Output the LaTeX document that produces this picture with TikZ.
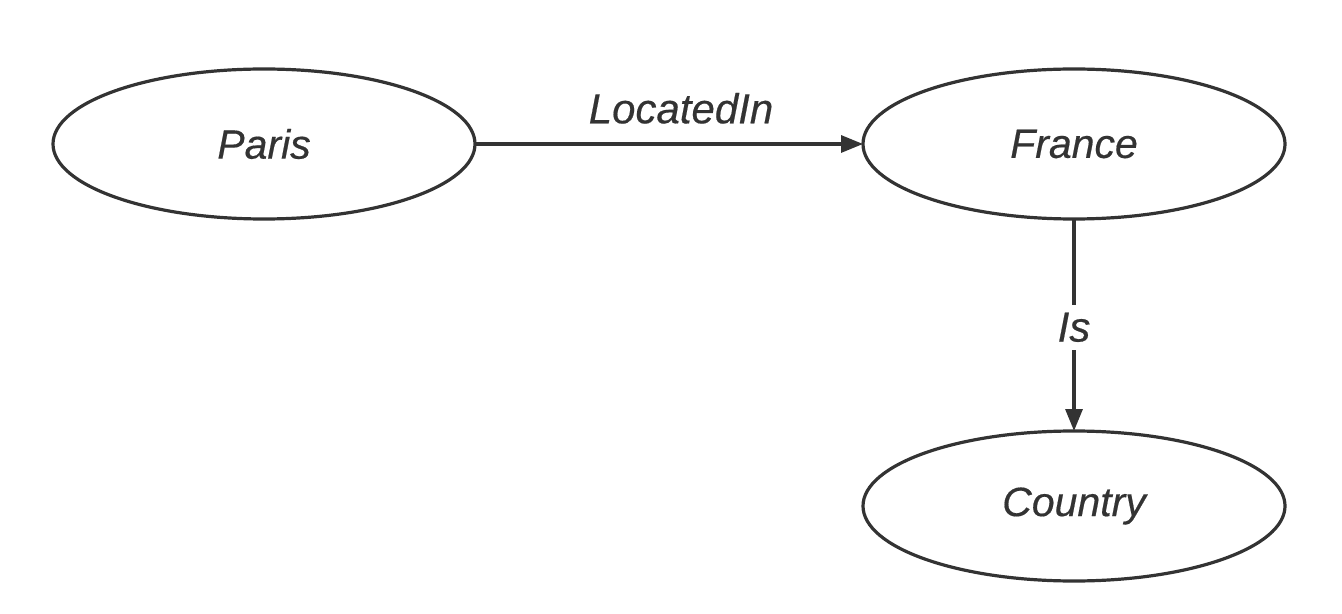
\documentclass[tikz,border=0pt]{standalone}
\usepackage{fontspec}
\setmainfont{Liberation Sans}[ItalicFeatures={FakeBold=0.4}]
\usetikzlibrary{arrows.meta,shapes.geometric}
\definecolor{ink}{HTML}{333333}
\begin{document}
\begin{tikzpicture}[x=0.5pt,y=-0.5pt,
  ent/.style={ellipse,draw=ink,line width=1.6pt,minimum width=211pt,minimum height=75pt,inner sep=0pt,outer sep=0pt,font=\fontsize{20.5}{24}\selectfont\itshape,text=ink},
  rel/.style={draw=ink,line width=1.6pt,-{Triangle[length=11pt,width=8.5pt]}},
  lab/.style={font=\fontsize{21}{24}\selectfont\itshape,text=ink}]
\useasboundingbox (0,0) rectangle (1342,614);
\node[ent] (paris) at (264,144) {Paris};
\node[ent] (france) at (1074,144) {France};
\node[ent] (country) at (1074,506) {Country};
\draw[rel] (paris) -- (france) node[midway,above=6pt,xshift=6pt,lab] {LocatedIn};
\draw[rel] (france) -- (country) node[pos=0.51,lab,fill=white,inner sep=4pt,text depth=0pt] {Is};
\end{tikzpicture}
\end{document}
